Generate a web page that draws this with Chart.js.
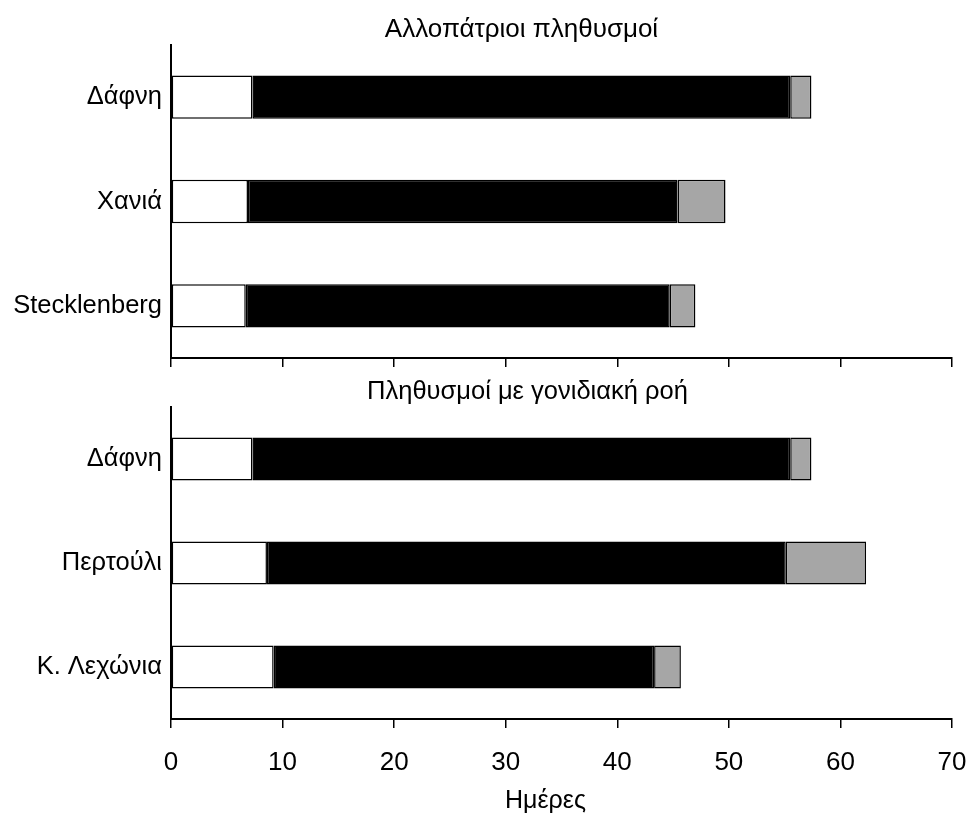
<!DOCTYPE html>
<html><head><meta charset="utf-8">
<script src="https://cdn.jsdelivr.net/npm/chart.js@4.4.0/dist/chart.umd.min.js"></script>
<style>
html,body{margin:0;padding:0;background:#fff;}
#wrap{position:relative;width:967px;height:819px;background:#fff;}
.pane{position:absolute;left:0;width:967px;}
</style></head><body>
<div id="wrap">
<div class="pane" style="top:0;height:375px"><canvas id="c1" width="967" height="375"></canvas></div>
<div class="pane" style="top:375px;height:444px"><canvas id="c2" width="967" height="444"></canvas></div>
</div>
<script>
// ---- data ----
const topTitle = 'Αλλοπάτριοι πληθυσμοί';
const bottomTitle = 'Πληθυσμοί με γονιδιακή ροή';
const xAxisTitle = 'Ημέρες';
const topCategories = ['Δάφνη', 'Χανιά', 'Stecklenberg'];
const topWhite = [7.3, 6.9, 6.7];
const topBlack = [48.2, 38.5, 38.0];
const topGray = [1.9, 4.3, 2.3];
const bottomCategories = ['Δάφνη', 'Περτούλι', 'Κ. Λεχώνια'];
const bottomWhite = [7.3, 8.6, 9.2];
const bottomBlack = [48.2, 46.5, 34.1];
const bottomGray = [1.9, 7.2, 2.4];
const xMin = 0, xMax = 70, xStep = 10;

const FONT = "'Liberation Sans', Arial, sans-serif";

const textPlugin = {
  id: 'panelText',
  afterDraw(chart, args, opts) {
    const ctx = chart.ctx;
    const ca = chart.chartArea;
    const mid = (ca.left + ca.right) / 2;
    ctx.save();
    ctx.fillStyle = '#000';
    ctx.textAlign = 'center';
    ctx.textBaseline = 'middle';
    (opts.items || []).forEach(it => {
      ctx.font = it.size + 'px ' + FONT;
      ctx.fillText(it.text, mid + it.dx, it.y);
    });
    ctx.restore();
  }
};

function makeDatasets(w, b, g) {
  const common = { borderColor: '#000', borderWidth: 1.5, borderSkipped: false, categoryPercentage: 1, barPercentage: 0.415 };
  return [
    Object.assign({ label: 'a', data: w, backgroundColor: '#ffffff' }, common),
    Object.assign({ label: 'b', data: b, backgroundColor: '#000000' }, common),
    Object.assign({ label: 'c', data: g, backgroundColor: '#a6a6a6' }, common)
  ];
}

function makeChart(id, cats, w, b, g, showLabels, xHeight, padTop, items) {
  return new Chart(document.getElementById(id), {
    type: 'bar',
    data: { labels: cats, datasets: makeDatasets(w, b, g) },
    plugins: [textPlugin],
    options: {
      indexAxis: 'y',
      responsive: false,
      animation: false,
      layout: { padding: { top: padTop, right: 15, left: 0, bottom: 0 } },
      plugins: {
        legend: { display: false },
        tooltip: { enabled: false },
        panelText: { items: items }
      },
      scales: {
        x: {
          stacked: true,
          min: xMin, max: xMax,
          ticks: { stepSize: xStep, display: showLabels, color: '#000', font: { family: FONT, size: 26 }, padding: 19 },
          grid: { display: true, drawOnChartArea: false, drawTicks: true, tickLength: 9, color: '#000', lineWidth: 1.5 },
          border: { display: true, color: '#000', width: 2 },
          afterFit(s) { s.height = xHeight; s.paddingLeft = 0; s.paddingRight = 0; }
        },
        y: {
          stacked: true,
          ticks: { color: '#000', font: { family: FONT, size: 25.5 }, padding: 9 },
          grid: { display: false, drawTicks: false },
          border: { display: true, color: '#000', width: 2 },
          afterFit(s) { s.width = 171; s.paddingTop = 0; s.paddingBottom = 0; }
        }
      }
    }
  });
}

makeChart('c1', topCategories, topWhite, topBlack, topGray, false, 17, 45,
  [{ text: topTitle, size: 26, dx: -40, y: 30 }]);
makeChart('c2', bottomCategories, bottomWhite, bottomBlack, bottomGray, true, 100, 32,
  [{ text: bottomTitle, size: 25.5, dx: -34, y: 17 }, { text: xAxisTitle, size: 25, dx: -16, y: 426 }]);
</script>
</body></html>
